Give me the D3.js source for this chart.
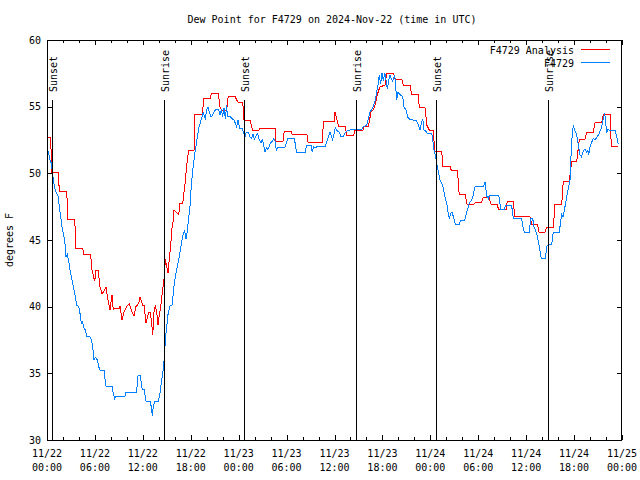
<!DOCTYPE html>
<html><head><meta charset="utf-8">
<script src="https://cdn.jsdelivr.net/npm/d3@7"></script>
<style>
body{margin:0;background:#fff}
text{font-family:"DejaVu Sans Mono",monospace;font-size:10px;fill:#000}
</style>
</head><body>
<svg id="chart" width="640" height="480"></svg>
<script>
const chartTitle = "Dew Point for F4729 on 2024-Nov-22 (time in UTC)";
const yLabel = "degrees F";
const seriesNames = ["F4729 Analysis", "F4729"];
const seriesColors = ["#ff0000", "#0080ff"];
// [hours since 11/22 00:00 UTC, dew point °F]
const analysis = [[0,52.7],[0.46,52.7],[0.59,50.1],[1.42,50.1],[1.54,48.65],[2.47,48.65],[2.63,46.55],[3.47,46.55],[3.63,44.4],[4.47,44.4],[4.63,43.9],[5.47,43.9],[5.63,42.75],[5.97,41.9],[6.14,42.75],[6.39,42.75],[6.64,41.5],[6.89,40.95],[7.23,41.25],[7.39,41.5],[7.55,40.75],[7.89,39.75],[8.14,40.9],[8.30,39.75],[8.55,39.9],[9.05,39.9],[9.14,40.05],[9.39,39.0],[9.64,39.6],[10.06,40.1],[10.31,40.2],[10.64,39.6],[10.89,39.3],[11.14,40.0],[11.48,40.25],[11.65,40.75],[11.98,40.1],[12.15,40.1],[12.40,38.75],[12.73,39.6],[12.90,39.6],[13.06,39.0],[13.24,37.9],[13.40,39.6],[13.56,40.1],[13.74,39.6],[13.90,38.6],[14.06,39.4],[14.24,40.0],[14.40,40.9],[14.56,41.6],[14.74,42.5],[14.81,43.6],[14.99,43.0],[15.15,42.5],[15.32,43.65],[15.49,44.6],[15.65,45.9],[15.82,46.5],[15.90,47.25],[16.15,47.1],[16.49,46.9],[16.65,47.75],[16.99,47.75],[17.16,48.6],[17.32,49.4],[17.49,50.6],[17.74,51.75],[18.41,51.75],[18.49,54.4],[19.50,54.4],[19.57,55.6],[20.41,55.6],[20.60,56.0],[21.45,56.0],[21.66,55.0],[21.88,54.75],[22.50,54.75],[22.70,55.8],[23.54,55.8],[23.75,55.5],[23.95,55.3],[24.51,55.3],[24.67,54.0],[25.42,54.0],[25.73,53.25],[26.55,53.25],[26.70,53.4],[28.55,53.4],[28.68,52.4],[29.55,52.4],[29.70,53.15],[30.55,53.15],[30.70,52.9],[32.56,52.9],[32.68,52.35],[34.46,52.35],[34.62,53.9],[35.96,53.9],[36.06,54.6],[36.31,54.0],[36.53,53.5],[37.38,53.5],[37.50,52.85],[38.41,52.85],[38.54,53.2],[39.53,53.2],[39.70,53.5],[40.26,53.5],[40.36,53.9],[40.57,54.6],[40.86,54.75],[41.13,55.25],[41.41,56.0],[41.70,56.5],[42.32,56.6],[42.54,57.5],[43.41,57.5],[43.58,57.05],[44.42,57.05],[44.62,56.6],[45.46,56.6],[45.67,55.9],[46.46,55.9],[46.62,54.95],[47.33,54.95],[47.58,53.6],[47.87,53.25],[48.37,53.25],[48.55,51.65],[49.42,51.65],[49.58,50.55],[50.46,50.55],[50.63,50.2],[51.40,50.2],[51.61,48.45],[52.34,48.45],[52.59,47.7],[53.46,47.7],[53.67,47.85],[54.43,47.85],[54.63,48.2],[55.34,48.2],[55.59,47.7],[56.35,47.7],[56.54,47.3],[57.48,47.3],[57.64,47.9],[58.35,47.9],[58.60,46.75],[60.48,46.75],[60.69,46.2],[61.39,46.2],[61.61,45.6],[62.36,45.6],[62.57,45.95],[63.40,45.95],[63.61,47.7],[64.45,47.7],[64.65,49.4],[65.40,49.4],[65.70,50.9],[66.33,50.9],[66.66,52.55],[67.37,52.55],[67.58,53.1],[68.41,53.1],[68.62,53.8],[69.46,53.8],[69.66,54.4],[70.50,54.4],[70.66,52.05],[71.50,52.05]];
const observed = [[0,52.0],[0.21,51.5],[0.38,51.0],[0.54,50.75],[0.66,50.2],[0.79,49.5],[0.96,48.9],[1.21,48.5],[1.38,48.3],[1.54,47.5],[1.72,46.75],[1.88,46.0],[2.04,45.5],[2.22,45.0],[2.38,43.75],[2.54,43.9],[2.72,43.4],[2.88,42.75],[3.04,42.25],[3.29,41.5],[3.54,40.75],[3.72,40.1],[3.97,40.0],[4.13,39.5],[4.30,38.75],[4.47,38.9],[4.55,38.5],[4.80,38.25],[4.97,37.75],[5.38,37.75],[5.55,37.5],[5.72,37.0],[5.89,36.0],[6.05,36.2],[6.30,36.0],[6.47,35.5],[6.64,35.25],[7.14,35.25],[7.26,34.6],[7.39,34.05],[8.14,34.05],[8.30,33.5],[8.48,33.1],[8.58,33.3],[9.77,33.3],[9.89,33.55],[11.21,33.55],[11.40,34.85],[11.65,34.85],[11.77,34.4],[11.93,33.8],[12.15,33.8],[12.40,32.9],[12.90,32.9],[13.06,32.5],[13.19,31.8],[13.31,32.5],[13.52,32.9],[13.94,32.9],[14.15,33.55],[14.31,34.25],[14.49,35.0],[14.65,35.9],[14.74,36.75],[14.90,38.0],[15.15,39.4],[15.40,40.05],[15.65,40.1],[15.74,40.55],[15.90,41.5],[16.07,42.25],[16.32,43.0],[16.57,43.75],[16.74,44.4],[16.90,45.0],[17.07,45.5],[17.24,45.7],[17.41,45.05],[17.57,45.7],[17.74,46.6],[17.91,47.6],[18.07,49.1],[18.32,50.6],[18.49,51.4],[18.74,52.4],[19.00,53.4],[19.25,53.9],[19.41,54.25],[19.57,54.6],[19.72,54.2],[19.82,54.1],[20.00,54.75],[20.16,55.0],[20.32,54.6],[20.50,54.25],[20.66,54.3],[20.83,54.5],[21.08,54.75],[21.50,54.8],[21.66,54.4],[21.83,54.8],[22.00,54.25],[22.16,54.9],[22.33,54.1],[22.50,55.1],[22.58,54.25],[22.92,54.25],[23.17,54.1],[23.42,54.0],[23.75,53.5],[23.92,54.0],[24.13,53.4],[24.42,53.4],[24.63,53.0],[24.79,52.75],[24.96,53.1],[25.21,53.1],[25.38,52.75],[25.61,52.6],[25.80,52.95],[25.96,52.55],[26.17,52.8],[26.38,53.0],[26.55,52.55],[26.80,52.25],[26.96,52.6],[27.13,52.1],[27.29,51.6],[27.46,51.9],[27.63,51.8],[27.80,52.0],[27.96,52.25],[28.21,52.4],[28.38,52.6],[28.55,52.4],[28.71,51.75],[28.89,51.95],[29.80,51.95],[29.97,52.3],[30.14,52.6],[30.97,52.6],[31.12,52.1],[31.22,51.6],[32.39,51.6],[32.47,52.1],[33.06,52.1],[33.22,51.6],[33.40,52.0],[33.56,51.9],[33.81,52.0],[34.81,52.0],[34.98,52.25],[35.15,52.6],[35.44,53.1],[35.77,52.5],[36.10,53.4],[36.31,53.2],[36.60,53.1],[36.78,52.75],[37.06,52.75],[37.35,53.05],[37.60,53.2],[38.28,53.3],[39.41,53.3],[39.61,53.5],[40.03,53.6],[40.20,54.0],[40.45,54.6],[40.86,55.0],[41.07,55.4],[41.28,56.1],[41.48,56.75],[41.61,57.4],[41.78,56.7],[41.95,57.55],[42.11,56.9],[42.29,57.55],[42.45,57.0],[42.61,56.3],[42.79,57.0],[42.95,57.4],[43.11,57.1],[43.28,56.9],[43.54,57.4],[43.79,55.5],[43.95,56.1],[44.20,55.9],[44.54,55.75],[44.70,55.0],[44.95,54.75],[45.20,54.2],[45.45,54.05],[46.29,53.95],[46.50,53.6],[46.71,53.25],[46.90,53.8],[47.05,54.1],[47.21,53.25],[47.33,53.25],[47.62,53.0],[48.17,53.0],[48.30,52.5],[48.46,51.75],[48.71,51.1],[48.87,50.5],[49.05,50.0],[49.21,49.5],[49.42,49.25],[49.62,48.9],[49.84,48.25],[50.05,47.75],[50.21,47.1],[50.37,46.6],[50.55,47.0],[50.71,47.1],[50.88,46.75],[51.13,46.2],[51.63,46.2],[51.80,46.5],[52.30,46.5],[52.47,46.9],[52.63,47.25],[52.88,47.75],[53.18,48.0],[53.38,48.4],[53.60,49.0],[54.64,49.0],[54.85,49.35],[55.06,48.3],[55.26,48.1],[55.39,48.35],[56.56,48.35],[56.72,47.75],[56.81,47.3],[57.26,47.3],[57.41,47.6],[58.10,47.6],[58.26,47.3],[58.39,46.6],[59.44,46.6],[59.60,46.0],[59.77,45.6],[60.39,45.6],[60.57,46.6],[60.82,46.6],[60.98,46.0],[61.32,45.5],[61.48,45.0],[61.65,44.5],[61.90,43.6],[62.40,43.6],[62.57,44.5],[62.82,44.7],[63.20,44.7],[63.40,45.6],[64.15,45.6],[64.30,46.3],[64.45,46.9],[64.61,46.7],[64.86,47.5],[65.08,48.25],[65.28,48.9],[65.49,49.5],[65.65,51.75],[65.78,53.0],[65.91,53.6],[66.08,53.2],[66.25,53.0],[66.41,52.6],[66.59,51.9],[66.74,51.4],[66.91,51.25],[67.06,51.5],[67.16,51.7],[67.37,51.8],[67.56,51.6],[67.74,51.7],[67.83,51.4],[68.00,52.0],[68.25,52.4],[68.41,52.6],[68.62,52.5],[68.91,52.75],[69.16,53.0],[69.46,53.5],[69.66,54.1],[69.84,54.5],[69.94,53.8],[70.10,53.1],[70.26,53.3],[70.50,53.2],[71.13,53.2],[71.34,52.75],[71.50,52.25],[71.67,52.3]];
const yTicks = [30,35,40,45,50,55,60];
const xMajorHours = [0,6,12,18,24,30,36,42,48,54,60,66,72];
const xTickDates = ["11/22","11/22","11/22","11/22","11/23","11/23","11/23","11/23","11/24","11/24","11/24","11/24","11/25"];
const xTickTimes = ["00:00","06:00","12:00","18:00","00:00","06:00","12:00","18:00","00:00","06:00","12:00","18:00","00:00"];
const eventHours = [0.66,14.69,24.70,38.73,48.75,62.77];
const eventLabels = ["Sunset","Sunrise","Sunset","Sunrise","Sunset","Sunrise"];

const L=47, R=622, T=40, B=440;
const svg = d3.select("#chart");
const x = d3.scaleLinear().domain([0,72]).range([L,R]);
const y = d3.scaleLinear().domain([30,60]).range([B,T]);
const xMinor = d3.range(0,73,2).filter(h=>h%6!==0);

// axes (inward ticks)
svg.append("g").attr("transform",`translate(0,${B})`)
  .call(d3.axisBottom(x).tickValues(xMajorHours).tickSizeInner(-5).tickSizeOuter(0).tickFormat(""));
svg.append("g").attr("transform",`translate(0,${B})`)
  .call(d3.axisBottom(x).tickValues(xMinor).tickSizeInner(-3).tickSizeOuter(0).tickFormat(""));
svg.append("g").attr("transform",`translate(0,${T})`)
  .call(d3.axisTop(x).tickValues(xMajorHours).tickSizeInner(-5).tickSizeOuter(0).tickFormat(""));
svg.append("g").attr("transform",`translate(0,${T})`)
  .call(d3.axisTop(x).tickValues(xMinor).tickSizeInner(-3).tickSizeOuter(0).tickFormat(""));
svg.append("g").attr("transform",`translate(${L},0)`)
  .call(d3.axisLeft(y).tickValues(yTicks).tickSizeInner(-5).tickSizeOuter(0).tickFormat(""));
svg.append("g").attr("transform",`translate(${R},0)`)
  .call(d3.axisRight(y).tickValues(yTicks).tickSizeInner(-5).tickSizeOuter(0).tickFormat(""));
svg.selectAll(".domain").remove();
svg.selectAll(".tick line").attr("stroke","#000").attr("shape-rendering","crispEdges");

// tick labels
svg.append("g").selectAll("text").data(yTicks).join("text")
  .attr("x",41).attr("y",d=>y(d)+3.5).attr("text-anchor","end").text(d=>d);
const xl = svg.append("g").selectAll("g").data(xMajorHours).join("g");
xl.append("text").attr("x",d=>x(d)).attr("y",457).attr("text-anchor","middle").text((d,i)=>xTickDates[i]);
xl.append("text").attr("x",d=>x(d)).attr("y",471).attr("text-anchor","middle").text((d,i)=>xTickTimes[i]);

// series
const line = d3.line().x(d=>x(d[0])).y(d=>y(d[1]));
const pg = svg.append("g");
pg.append("path").datum(analysis).attr("d",line).attr("fill","none")
  .attr("stroke",seriesColors[0]).attr("stroke-width",1).attr("shape-rendering","crispEdges");
pg.append("path").datum(observed).attr("d",line).attr("fill","none")
  .attr("stroke",seriesColors[1]).attr("stroke-width",1).attr("shape-rendering","crispEdges");

// sunrise/sunset markers
const ev = svg.append("g");
ev.selectAll("line").data(eventHours).join("line")
  .attr("x1",d=>Math.round(x(d))+0.5).attr("x2",d=>Math.round(x(d))+0.5)
  .attr("y1",100).attr("y2",B).attr("stroke","#000").attr("stroke-width",1)
  .attr("shape-rendering","crispEdges");
ev.selectAll("text").data(eventHours).join("text")
  .attr("transform",d=>`translate(${Math.round(x(d))+5},92) rotate(-90)`)
  .text((d,i)=>eventLabels[i]);

// border
svg.append("rect").attr("x",L+0.5).attr("y",T+0.5).attr("width",R-L-1).attr("height",B-T)
  .attr("fill","none").attr("stroke","#000").attr("stroke-width",1).attr("shape-rendering","crispEdges");

// legend
const lg = svg.append("g");
seriesNames.forEach((n,i)=>{
  const yy = 49.5 + i*13;
  lg.append("text").attr("x",574).attr("y",yy+4).attr("text-anchor","end").text(n);
  lg.append("line").attr("x1",581).attr("x2",610).attr("y1",yy).attr("y2",yy)
    .attr("stroke",seriesColors[i]).attr("stroke-width",1).attr("shape-rendering","crispEdges");
});

// title and axis label
svg.append("text").attr("x",332).attr("y",23).attr("text-anchor","middle").text(chartTitle);
svg.append("text").attr("transform","translate(13,240) rotate(-90)").attr("text-anchor","middle").text(yLabel);
</script>
</body></html>
